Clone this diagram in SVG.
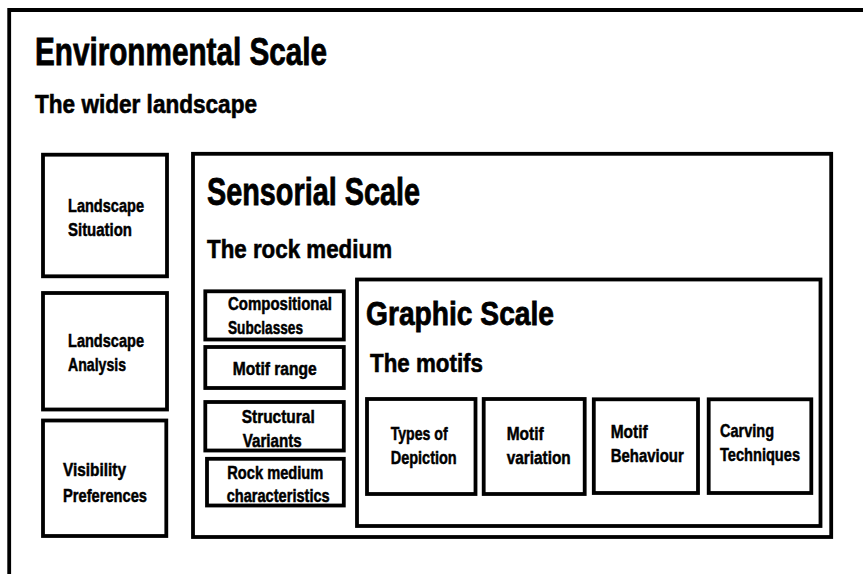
<svg xmlns="http://www.w3.org/2000/svg" width="863" height="574" viewBox="0 0 863 574">
<style>
.box{fill:none;stroke:#000;stroke-width:3.8}
.t{font-family:"Liberation Sans",Arial,sans-serif;font-weight:bold;fill:#000;stroke:#000;stroke-width:0.5}
.h1{font-size:38px;stroke-width:0.8}
.h2{font-size:26px;stroke-width:0.6}
.h3{font-size:34px;stroke-width:0.8}
.l{font-size:18.5px}
.s{font-size:17.5px}
</style>
<rect width="863" height="574" fill="#fff"/>
<g id="environmental-scale">
<path class="box" d="M9.2 574 V10 H863"/>
<text class="t h1" x="35" y="65" textLength="292" lengthAdjust="spacingAndGlyphs">Environmental Scale</text>
<text class="t h2" x="35" y="113" textLength="222" lengthAdjust="spacingAndGlyphs">The wider landscape</text>
</g>
<g id="landscape-situation">
<rect class="box" x="43" y="154.7" width="124" height="121.6"/>
<text class="t l" x="68" y="212" textLength="76" lengthAdjust="spacingAndGlyphs">Landscape</text>
<text class="t l" x="68" y="236" textLength="64" lengthAdjust="spacingAndGlyphs">Situation</text>
</g>
<g id="landscape-analysis">
<rect class="box" x="43" y="293" width="124" height="116.5"/>
<text class="t l" x="68" y="347" textLength="76" lengthAdjust="spacingAndGlyphs">Landscape</text>
<text class="t l" x="68" y="371" textLength="58" lengthAdjust="spacingAndGlyphs">Analysis</text>
</g>
<g id="visibility-preferences">
<rect class="box" x="43" y="420.5" width="123.3" height="115.5"/>
<text class="t l" x="63" y="476" textLength="63" lengthAdjust="spacingAndGlyphs">Visibility</text>
<text class="t l" x="63" y="502" textLength="84" lengthAdjust="spacingAndGlyphs">Preferences</text>
</g>
<g id="sensorial-scale">
<rect class="box" x="193" y="153.8" width="638.2" height="383.2"/>
<text class="t h1" x="207" y="205" textLength="213" lengthAdjust="spacingAndGlyphs">Sensorial Scale</text>
<text class="t h2" x="207" y="258" textLength="185" lengthAdjust="spacingAndGlyphs">The rock medium</text>
</g>
<g id="compositional-subclasses">
<rect class="box" x="205.3" y="291.3" width="138.5" height="48.2"/>
<text class="t s" x="228" y="309.5" textLength="104" lengthAdjust="spacingAndGlyphs">Compositional</text>
<text class="t s" x="228" y="333.5" textLength="75" lengthAdjust="spacingAndGlyphs">Subclasses</text>
</g>
<g id="motif-range">
<rect class="box" x="205.3" y="347" width="138.5" height="41"/>
<text class="t s" x="232.7" y="374.5" textLength="84" lengthAdjust="spacingAndGlyphs">Motif range</text>
</g>
<g id="structural-variants">
<rect class="box" x="205.3" y="402" width="138.5" height="48.5"/>
<text class="t s" x="241.7" y="423" textLength="73" lengthAdjust="spacingAndGlyphs">Structural</text>
<text class="t s" x="242.7" y="447" textLength="59" lengthAdjust="spacingAndGlyphs">Variants</text>
</g>
<g id="rock-medium-characteristics">
<rect class="box" x="207" y="458.8" width="136.8" height="46.7"/>
<text class="t s" x="227.3" y="478.5" textLength="96" lengthAdjust="spacingAndGlyphs">Rock medium</text>
<text class="t s" x="226.7" y="502" textLength="103" lengthAdjust="spacingAndGlyphs">characteristics</text>
</g>
<g id="graphic-scale">
<rect class="box" x="357" y="279.5" width="463.5" height="246.5"/>
<text class="t h3" x="366" y="325" textLength="188" lengthAdjust="spacingAndGlyphs">Graphic Scale</text>
<text class="t h2" x="370" y="372" textLength="113" lengthAdjust="spacingAndGlyphs">The motifs</text>
</g>
<g id="types-of-depiction">
<rect class="box" x="367" y="399" width="108.5" height="95"/>
<text class="t l" x="390.7" y="439.5" textLength="57" lengthAdjust="spacingAndGlyphs">Types of</text>
<text class="t l" x="390.7" y="464" textLength="66" lengthAdjust="spacingAndGlyphs">Depiction</text>
</g>
<g id="motif-variation">
<rect class="box" x="483.7" y="399" width="101" height="95"/>
<text class="t l" x="506.7" y="439.5" textLength="37" lengthAdjust="spacingAndGlyphs">Motif</text>
<text class="t l" x="506.7" y="464" textLength="64" lengthAdjust="spacingAndGlyphs">variation</text>
</g>
<g id="motif-behaviour">
<rect class="box" x="593.8" y="399.3" width="104.2" height="93.7"/>
<text class="t l" x="610.7" y="437.5" textLength="37" lengthAdjust="spacingAndGlyphs">Motif</text>
<text class="t l" x="610.7" y="461.5" textLength="73" lengthAdjust="spacingAndGlyphs">Behaviour</text>
</g>
<g id="carving-techniques">
<rect class="box" x="708.7" y="399.3" width="102.6" height="93.7"/>
<text class="t l" x="720" y="437" textLength="54" lengthAdjust="spacingAndGlyphs">Carving</text>
<text class="t l" x="720" y="461" textLength="80" lengthAdjust="spacingAndGlyphs">Techniques</text>
</g>
<g id="connectors"/>
</svg>
